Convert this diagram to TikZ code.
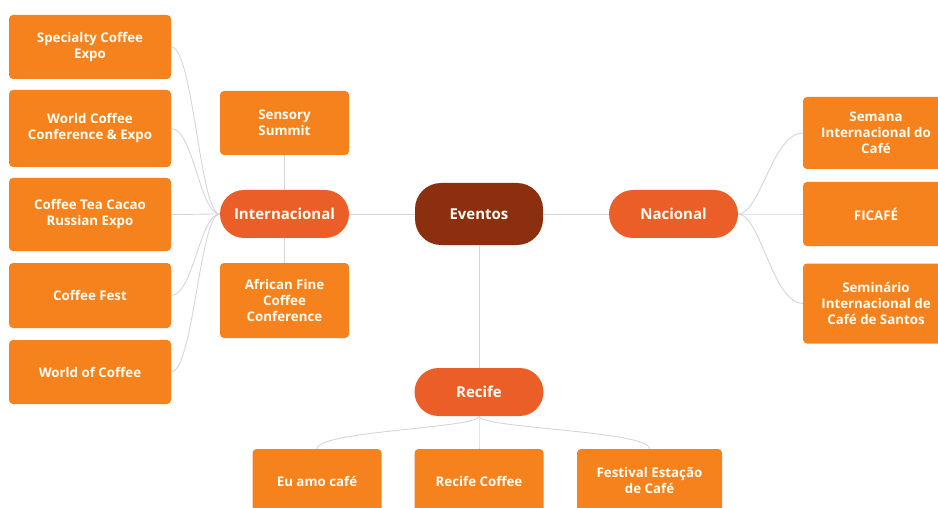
\documentclass[tikz,border=0pt]{standalone}
\usepackage{fontspec}
\setmainfont{Open Sans}
\usetikzlibrary{calc}
\definecolor{leaf}{RGB}{246,130,30}
\definecolor{mid}{RGB}{235,94,40}
\definecolor{root}{RGB}{139,47,14}
\definecolor{link}{RGB}{210,214,218}
\tikzset{
  leafbox/.style={fill=leaf, text=white!96!yellow, rounded corners=4pt, align=center, inner sep=0pt,
    font=\fontsize{13.3}{16}\selectfont\bfseries},
  pill/.style={fill=mid, text=white!96!yellow, rounded corners=24pt, inner sep=0pt,
    minimum width=129pt, minimum height=48pt, font=\fontsize{15}{17}\selectfont\bfseries},
  rootbox/.style={fill=root, text=white!96!yellow, rounded corners=26pt, inner sep=0pt,
    minimum width=128pt, minimum height=62pt, font=\fontsize{15}{17}\selectfont\bfseries},
  conn/.style={draw=link, line width=0.9pt}
}
\begin{document}
\begin{tikzpicture}[x=1pt,y=-1pt]
\useasboundingbox (0,0) rectangle (938,508);
\begin{scope}
\clip (0,0) rectangle (938,508);
% main nodes
\node[rootbox] (ev) at (479,214) {Eventos};
\node[pill] (int) at (284.5,214) {Internacional};
\node[pill] (nac) at (673.5,214) {Nacional};
\node[pill] (rec) at (479,392) {Recife};
% left column
\node[leafbox, minimum width=162pt, minimum height=64pt] (l1) at (90,47) {Specialty Coffee\\Expo};
\node[leafbox, minimum width=162pt, minimum height=77pt] (l2) at (90,128.5) {World Coffee\\Conference \& Expo};
\node[leafbox, minimum width=162pt, minimum height=73pt] (l3) at (90,214.5) {Coffee Tea Cacao\\Russian Expo};
\node[leafbox, minimum width=162pt, minimum height=65pt] (l4) at (90,295.5) {Coffee Fest};
\node[leafbox, minimum width=162pt, minimum height=64pt] (l5) at (90,372) {World of Coffee};
% internacional up/down
\node[leafbox, minimum width=129pt, minimum height=64pt] (ss) at (284.5,123) {Sensory\\Summit};
\node[leafbox, minimum width=129pt, minimum height=75pt] (af) at (284.5,300.5) {African Fine\\Coffee\\Conference};
% right column
\node[leafbox, minimum width=146pt, minimum height=72pt] (r1) at (876,133) {Semana\\Internacional do\\Café};
\node[leafbox, minimum width=146pt, minimum height=64pt] (r2) at (876,214) {FICAFÉ};
\node[leafbox, minimum width=146pt, minimum height=80pt] (r3) at (876,303.5) {Seminário\\Internacional de\\Café de Santos};
% bottom row
\node[leafbox, minimum width=129pt, minimum height=64pt] (b1) at (317,481) {Eu amo café};
\node[leafbox, minimum width=129pt, minimum height=64pt] (b2) at (479,481) {Recife Coffee};
\node[leafbox, minimum width=145pt, minimum height=64pt] (b3) at (649.5,481) {Festival Estação\\de Café};
\end{scope}
% connectors
\draw[conn] (ev.west) -- (int.east);
\draw[conn] (ev.east) -- (nac.west);
\draw[conn] (ev.south) -- (rec.north);
\draw[conn] (int.north) -- (ss.south);
\draw[conn] (int.south) -- (af.north);
\foreach \n in {l1,l2,l3,l4,l5}{
  \draw[conn] (int.west) .. controls ($(int.west)+(-20,0)$) and ($(\n.east)+(22,0)$) .. (\n.east);
}
\foreach \n in {r1,r2,r3}{
  \draw[conn] (nac.east) .. controls ($(nac.east)+(22,0)$) and ($(\n.west)+(-30,0)$) .. (\n.west);
}
\foreach \n in {b1,b2,b3}{
  \draw[conn] (rec.south) .. controls ($(rec.south)+(0,12)$) and ($(\n.north)+(0,-18)$) .. (\n.north);
}
\end{tikzpicture}
\end{document}
